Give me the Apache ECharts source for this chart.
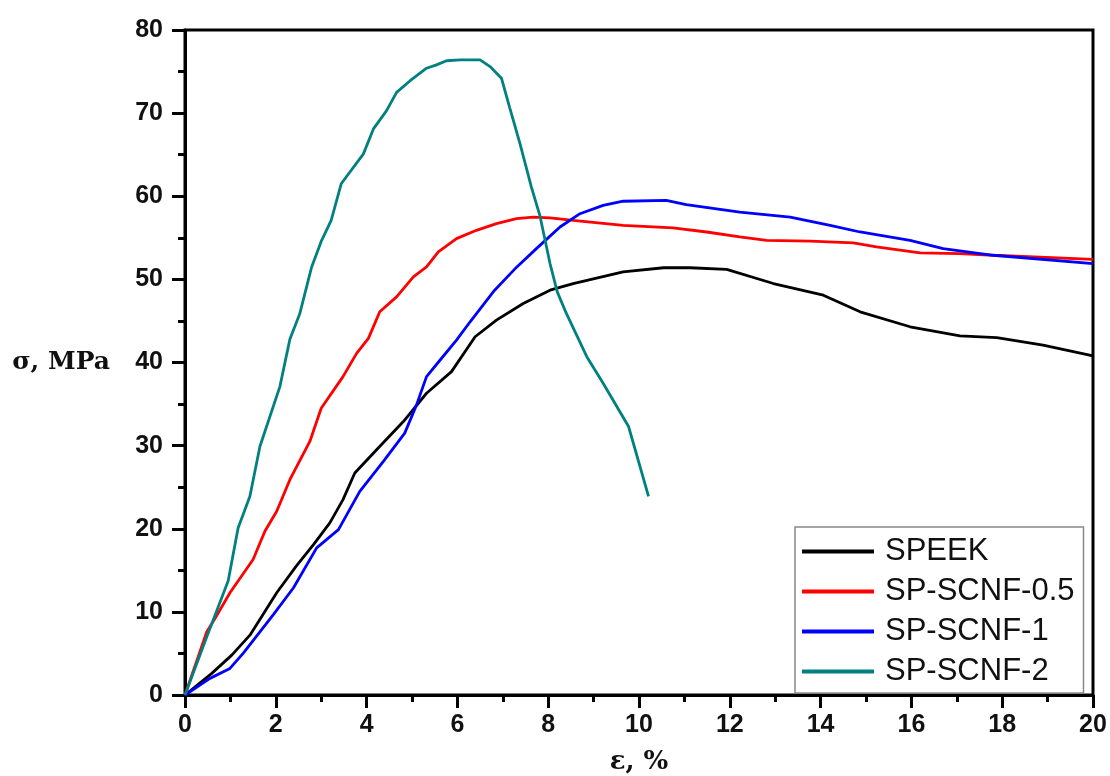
<!DOCTYPE html>
<html>
<head>
<meta charset="utf-8">
<script src="https://cdn.jsdelivr.net/npm/echarts@6/dist/echarts.min.js"></script>
<style>
  html, body { margin: 0; padding: 0; background: #fff; }
  #chart { width: 1110px; height: 776px; }
</style>
</head>
<body>
<div id="chart"></div>
<script>
// strain (%) / stress (MPa) pairs
const speek = [
  [0, 0], [0.59, 2.6], [1.03, 4.8], [1.43, 7.2], [2.02, 12.3], [2.45, 15.5], [2.83, 18.1],
  [3.19, 20.7], [3.48, 23.5], [3.74, 26.7], [4.22, 29.5], [4.81, 32.9], [5.32, 36.3],
  [5.87, 38.9], [6.39, 43.1], [6.86, 45.1], [7.45, 47.1], [8.04, 48.7], [8.55, 49.5],
  [9.65, 50.9], [10.54, 51.4], [11.12, 51.4], [11.93, 51.2], [12.96, 49.5], [14.06, 48.1],
  [14.87, 46.1], [15.97, 44.3], [17.07, 43.2], [17.88, 43.0], [18.9, 42.1], [20, 40.8]
]
const scnf05 = [
  [0, 0], [0.48, 7.6], [0.65, 9.1], [0.99, 12.3], [1.5, 16.3], [1.76, 19.7], [2.02, 22.1],
  [2.31, 25.9], [2.75, 30.5], [3.0, 34.5], [3.48, 38.3], [3.78, 41.1], [4.04, 42.9],
  [4.29, 46.1], [4.66, 47.9], [5.03, 50.3], [5.32, 51.5], [5.58, 53.3], [5.98, 54.9],
  [6.42, 55.9], [6.86, 56.7], [7.3, 57.3], [7.67, 57.5], [8.04, 57.4], [8.55, 57.1],
  [9.65, 56.5], [10.75, 56.2], [11.49, 55.7], [12.22, 55.1], [12.81, 54.7], [13.77, 54.6],
  [14.72, 54.4], [15.23, 53.9], [16.19, 53.2], [17.07, 53.1], [17.8, 52.9], [20, 52.4]
]
const scnf1 = [
  [0, 0], [0.55, 2.0], [0.99, 3.2], [1.28, 5.0], [1.65, 7.6], [1.95, 9.7], [2.39, 12.9],
  [2.9, 17.7], [3.38, 19.9], [3.85, 24.5], [4.37, 28.1], [4.84, 31.5], [5.1, 34.9],
  [5.32, 38.3], [5.62, 40.3], [5.98, 42.7], [6.28, 44.9], [6.82, 48.7], [7.31, 51.5],
  [7.74, 53.7], [8.04, 55.2], [8.26, 56.3], [8.7, 57.9], [9.21, 58.9], [9.65, 59.4],
  [10.6, 59.5], [11.04, 59.0], [12.22, 58.1], [13.33, 57.5], [14.21, 56.5], [14.87, 55.7],
  [15.97, 54.7], [16.7, 53.7], [17.8, 52.9], [20, 51.9]
]
const scnf2 = [
  [0, 0], [0.48, 7.0], [0.95, 13.7], [1.17, 20.1], [1.43, 23.9], [1.65, 29.9], [2.09, 37.1],
  [2.31, 42.8], [2.53, 45.9], [2.79, 51.5], [3.01, 54.7], [3.22, 57.1], [3.44, 61.5],
  [3.93, 65.1], [4.15, 68.1], [4.44, 70.3], [4.66, 72.5], [4.96, 73.9], [5.32, 75.4],
  [5.54, 75.8], [5.76, 76.3], [6.06, 76.4], [6.5, 76.4], [6.72, 75.6], [6.97, 74.2],
  [7.15, 70.7], [7.38, 66.3], [7.63, 61.1], [7.82, 57.6], [8.04, 51.9], [8.2, 48.5],
  [8.4, 45.9], [8.85, 40.7], [9.21, 37.5], [9.77, 32.3], [10.21, 23.9]
]

const seriesNames = ["SPEEK", "SP-SCNF-0.5", "SP-SCNF-1", "SP-SCNF-2"]
const seriesData = [speek, scnf05, scnf1, scnf2]
const colors = ["#000000", "#ff0000", "#0000ff", "#008080"]

const chart = echarts.init(document.getElementById("chart"))

const axisFont = {
  color: "#111",
  fontFamily: "Liberation Sans, Arial, sans-serif",
  fontWeight: "bold",
  fontSize: 25
}

const option = {
  animation: false,
  backgroundColor: "#fff",
  grid: {
    left: 185,
    right: 17,
    top: 30,
    bottom: 81,
    outerBoundsMode: "none",
    show: true,
    borderColor: "#000",
    borderWidth: 3
  },
  legend: {
    orient: "vertical",
    left: 795,
    top: 527,
    padding: [9, 9, 6, 7],
    itemGap: 9,
    itemWidth: 72,
    itemHeight: 4,
    icon: "rect",
    borderColor: "#888",
    borderWidth: 1.5,
    textStyle: {
      fontFamily: "Liberation Sans, Arial, sans-serif",
      fontSize: 31,
      lineHeight: 31,
      color: "#111",
      padding: [0, 0, 0, 6]
    },
    data: seriesNames
  },
  xAxis: {
    type: "value",
    min: 0,
    max: 20,
    interval: 2,
    name: "ε, %",
    nameLocation: "middle",
    nameGap: 54,
    nameTextStyle: {
      fontFamily: "DejaVu Serif, serif",
      fontWeight: "bold",
      fontSize: 26,
      color: "#111"
    },
    axisLine: { lineStyle: { color: "#000", width: 3 } },
    axisTick: { length: 13, lineStyle: { color: "#000", width: 3 } },
    minorTick: { show: true, splitNumber: 2, length: 7, lineStyle: { color: "#000", width: 3 } },
    splitLine: { show: false },
    axisLabel: Object.assign({ margin: 18 }, axisFont)
  },
  yAxis: {
    type: "value",
    min: 0,
    max: 80,
    interval: 10,
    name: "σ, MPa",
    nameLocation: "middle",
    nameRotate: 0,
    nameGap: 75,
    nameTextStyle: {
      fontFamily: "DejaVu Serif, serif",
      fontWeight: "bold",
      fontSize: 25,
      color: "#111"
    },
    axisLine: { lineStyle: { color: "#000", width: 3 } },
    axisTick: { length: 13, lineStyle: { color: "#000", width: 3 } },
    minorTick: { show: true, splitNumber: 2, length: 7, lineStyle: { color: "#000", width: 3 } },
    splitLine: { show: false },
    axisLabel: Object.assign({ margin: 22 }, axisFont)
  },
  series: seriesNames.map((name, i) => ({
    name: name,
    type: "line",
    data: seriesData[i],
    showSymbol: false,
    symbol: "none",
    color: colors[i],
    lineStyle: { color: colors[i], width: 2.8 }
  }))
}

chart.setOption(option)
</script>
</body>
</html>
